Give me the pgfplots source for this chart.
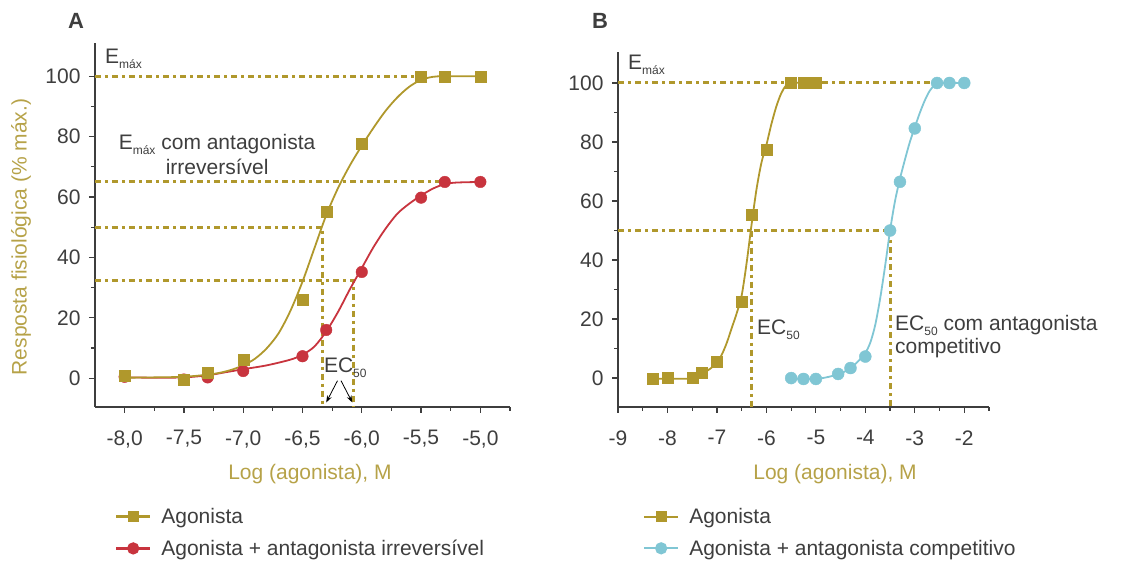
\documentclass[border=0pt]{standalone}
\usepackage{fontspec}
\setmainfont{Liberation Sans}
\usepackage{pgfplots}
\pgfplotsset{compat=1.18}
\usetikzlibrary{arrows.meta}
\definecolor{gold}{RGB}{176,152,44}
\definecolor{goldtxt}{RGB}{182,162,72}
\definecolor{redc}{RGB}{200,52,62}
\definecolor{cyanc}{RGB}{128,198,212}
\definecolor{txt}{RGB}{62,62,62}
\newcommand\fs{\fontsize{21}{25}\selectfont}
\newcommand\sub[1]{\raisebox{-0.45ex}{\fontsize{12}{12}\selectfont #1}}
\tikzset{refline/.style={gold, line width=3pt, dash pattern=on 6pt off 4pt on 3pt off 4pt}}
\pgfplotsset{myax/.style={
  scale only axis, axis lines=left, axis line style={txt, line width=1.2pt, -},
  tick align=outside, major tick length=6pt, minor tick length=4pt,
  every tick/.style={txt, line width=1.2pt},
  tick label style={font=\fs, text=txt},
  xticklabel style={yshift=-14pt},
  yticklabel style={xshift=-5pt},
  /pgf/number format/assume math mode=true,
  ytick={0,20,...,100}, minor ytick={10,30,...,90},
  clip=false,
  label style={font=\fs, text=goldtxt},
  legend style={draw=none, fill=none, font=\fs, text=txt, anchor=north west, row sep=11pt, inner sep=0pt},
  legend cell align=left,
  legend image code/.code={\draw[mark repeat=2, mark phase=2, #1] plot coordinates {(0pt,0pt) (17pt,0pt) (34pt,0pt)}; \path (42pt,0pt);},
}}

\pgfplotstableread{
x y
-8.0 0.2
-7.75 0.3
-7.5 0.5
-7.3 1.2
-7.2 1.8
-7.1 2.8
-7.0 4.3
-6.9 6.5
-6.8 10
-6.7 15
-6.6 22.5
-6.5 32
-6.4 43
-6.3 54
-6.2 63
-6.1 70.5
-6.0 77
-5.9 83
-5.8 88.5
-5.7 93
-5.6 96.5
-5.5 98.8
-5.4 99.8
-5.3 100
-5.0 100
}\goldcurveA
\pgfplotstableread{
x y
-8.0 0.7
-7.5 -0.3
-7.3 1.8
-7.0 6.2
-6.5 26
-6.3 55
-6.0 77.7
-5.5 100
-5.3 100
-5.0 100
}\golddataA
\pgfplotstableread{
x y
-8.0 0.3
-7.75 0.2
-7.5 0.3
-7.3 1.0
-7.15 2.0
-7.0 3.0
-6.8 4.3
-6.6 6.2
-6.5 7.8
-6.4 10.5
-6.3 15.5
-6.2 22
-6.1 29.5
-6.0 36.5
-5.9 43.5
-5.8 49.5
-5.7 54.5
-5.6 57.8
-5.5 60.5
-5.4 62.8
-5.3 64.3
-5.2 64.8
-5.0 65
}\redcurveA
\pgfplotstableread{
x y
-8.0 0.5
-7.5 -0.4
-7.3 0.3
-7.0 2.4
-6.5 7.3
-6.3 16
-6.0 35.2
-5.5 59.8
-5.3 65
-5.0 65
}\reddataA
\pgfplotstableread{
x y
-8.3 -0.2
-8.0 -0.2
-7.5 -0.1
-7.3 1.5
-7.15 3
-7.0 5.2
-6.9 8
-6.8 12
-6.7 17
-6.6 22
-6.5 28
-6.4 39
-6.3 52
-6.2 64
-6.1 73
-6.0 79
-5.9 86
-5.8 92
-5.7 96.5
-5.6 99.2
-5.5 100
-5.0 100
}\goldcurveB
\pgfplotstableread{
x y
-8.3 -0.3
-8.0 0
-7.5 0
-7.3 1.8
-7.0 5.4
-6.5 26
-6.3 55.5
-6.0 77.5
-5.5 100
-5.25 100
-5.0 100
}\golddataB
\pgfplotstableread{
x y
-5.5 0
-5.3 -0.3
-5.0 -0.3
-4.8 0.2
-4.6 1.0
-4.5 1.5
-4.3 3.3
-4.2 4.8
-4.1 6.5
-4.0 8.5
-3.9 12
-3.8 18
-3.7 27
-3.6 38
-3.5 50
-3.4 60
-3.3 67.5
-3.2 74
-3.1 80
-3.0 85
-2.9 89.8
-2.8 94
-2.7 97.3
-2.6 99.3
-2.5 100
-2.0 100
}\cyancurveB
\pgfplotstableread{
x y
-5.5 0
-5.25 -0.3
-5.0 -0.3
-4.55 1.4
-4.3 3.4
-4.0 7.3
-3.5 50
-3.3 66.5
-3.0 84.6
-2.55 100
-2.3 100
-2.0 100
}\cyandataB

\begin{document}
\begin{tikzpicture}
\useasboundingbox (0,0) rectangle (1133pt,564pt);
\node[font=\bfseries\fontsize{22}{22}\selectfont, text=txt] at (76pt,543pt) {A};
\node[font=\bfseries\fontsize{22}{22}\selectfont, text=txt] at (600pt,543pt) {B};

% ---------------- Panel A ----------------
\begin{axis}[myax, at={(95pt,157pt)}, anchor=south west, width=415pt, height=364pt,
  xmin=-8.25, xmax=-4.75, ymin=-9.5, ymax=111,
  xtick={-8,-7.5,-7,-6.5,-6,-5.5,-5},
  xticklabels={{-8,0},{-7,5},{-7,0},{-6,5},{-6,0},{-5,5},{-5,0}},
  minor xtick={-7.75,-7.25,-6.75,-6.25,-5.75,-5.25,-4.75},
  xlabel={Log (agonista), M},
  xlabel style={at={(axis description cs:0.518,-0.185)}, anchor=center},
  ylabel={Resposta fisiológica (\% máx.)},
  ylabel style={at={(axis description cs:-0.178,0.467)}, anchor=center},
  legend style={at={(axis description cs:0.048,-0.272)}},
]
\addplot[refline, forget plot] coordinates {(-8.25,100) (-5.5,100)};
\addplot[refline, forget plot] coordinates {(-8.25,65) (-5.3,65)};
\addplot[refline, forget plot] coordinates {(-8.25,50) (-6.33,50) (-6.33,-9.5)};
\addplot[refline, forget plot] coordinates {(-8.25,32.5) (-6.07,32.5) (-6.07,-9.5)};
\addplot[redc, line width=1.8pt, smooth, forget plot] table {\redcurveA};
\addplot[only marks, mark=*, mark size=5.8pt, redc, forget plot] table {\reddataA};
\addplot[gold, line width=1.8pt, smooth, forget plot] table {\goldcurveA};
\addplot[only marks, mark=square*, mark size=5.5pt, gold, forget plot] table {\golddataA};
\addlegendimage{gold, line width=2.2pt, mark=square*, mark size=4.5pt}
\addlegendentry{Agonista}
\addlegendimage{redc, line width=2.2pt, mark=*, mark size=5pt}
\addlegendentry{Agonista + antagonista irreversível}
\node[font=\fs, text=txt, anchor=base west, inner sep=0] at (axis cs:-8.166,104.3) {E\sub{máx}};
\node[font=\fs, text=txt, align=center, anchor=north, inner sep=0] at (axis cs:-7.22,81) {E\sub{máx} com antagonista\\irreversível};
\node[font=\fs, text=txt, anchor=base west, inner sep=0] at (axis cs:-6.32,2) {EC\sub{50}};
\draw[-{Stealth[length=7pt,width=5pt]}, black, line width=0.8pt] (axis cs:-6.205,-0.8) -- (axis cs:-6.30,-8);
\draw[-{Stealth[length=7pt,width=5pt]}, black, line width=0.8pt] (axis cs:-6.175,-0.8) -- (axis cs:-6.08,-8);
\end{axis}

% ---------------- Panel B ----------------
\begin{axis}[myax, at={(618pt,157pt)}, anchor=south west, width=371pt, height=355pt,
  xmin=-9, xmax=-1.5, ymin=-9.8, ymax=110.5,
  xtick={-9,-8,-7,-6,-5,-4,-3,-2},
  xticklabels={-9,-8,-7,-6,-5,-4,-3,-2},
  minor xtick={-8.5,-7.5,-6.5,-5.5,-4.5,-3.5,-2.5,-1.5},
  xlabel={Log (agonista), M},
  xlabel style={at={(axis description cs:0.585,-0.19)}, anchor=center},
  legend style={at={(axis description cs:0.067,-0.279)}},
]
\addplot[refline, forget plot] coordinates {(-9,100) (-2.55,100)};
\addplot[refline, forget plot] coordinates {(-9,50) (-3.5,50) (-3.5,-9.8)};
\addplot[refline, forget plot] coordinates {(-6.3,50) (-6.3,-9.8)};
\addplot[gold, line width=1.8pt, smooth, forget plot] table {\goldcurveB};
\addplot[only marks, mark=square*, mark size=5.5pt, gold, forget plot] table {\golddataB};
\addplot[cyanc, line width=1.8pt, smooth, forget plot] table {\cyancurveB};
\addplot[only marks, mark=*, mark size=6pt, cyanc, forget plot] table {\cyandataB};
\addlegendimage{gold, line width=2.2pt, mark=square*, mark size=4.5pt}
\addlegendentry{Agonista}
\addlegendimage{cyanc, line width=2.2pt, mark=*, mark size=5pt}
\addlegendentry{Agonista + antagonista competitivo}
\node[font=\fs, text=txt, anchor=base west, inner sep=0] at (axis cs:-8.80,104.4) {E\sub{máx}};
\node[font=\fs, text=txt, anchor=base west, inner sep=0] at (axis cs:-6.19,14.6) {EC\sub{50}};
\node[font=\fontsize{21}{23}\selectfont, text=txt, align=left, anchor=north west, inner sep=0] at (axis cs:-3.40,21.2) {EC\sub{50} com antagonista\\competitivo};
\end{axis}
\end{tikzpicture}
\end{document}
